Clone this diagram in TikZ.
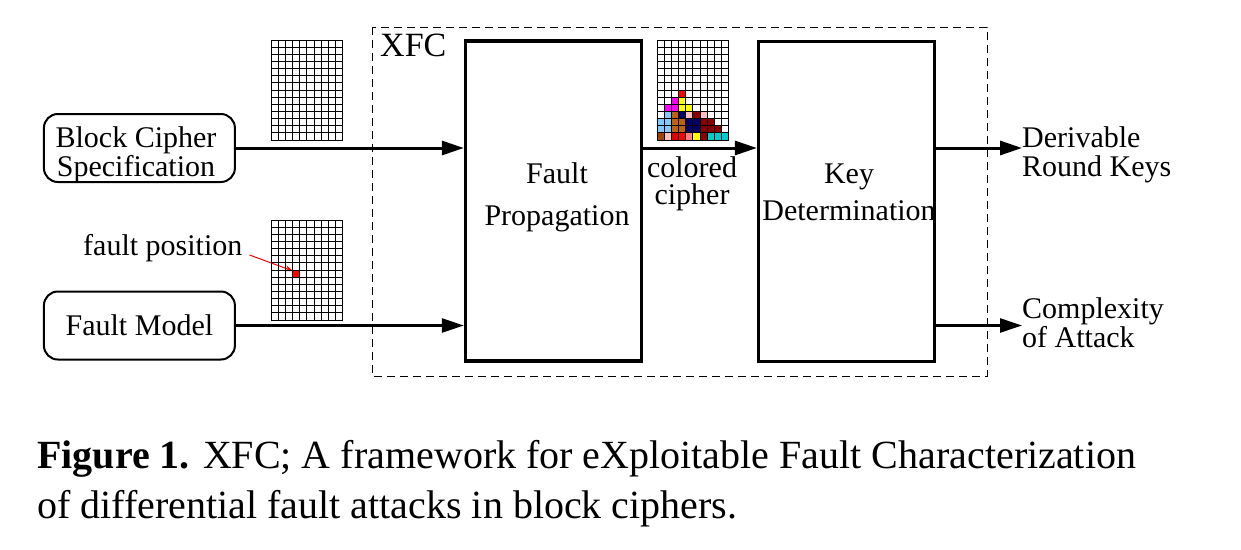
\documentclass[tikz,border=0pt]{standalone}
\usepackage{fontspec}
\setmainfont{Liberation Serif}
\usetikzlibrary{arrows.meta,shapes}

\definecolor{cellsky}{HTML}{80C8FF}
\definecolor{cellochre}{HTML}{C06010}
\definecolor{cellnavy}{HTML}{000066}
\definecolor{cellpink}{HTML}{FFC0C0}
\definecolor{cellmaroon}{HTML}{8B0000}
\definecolor{cellmagenta}{HTML}{FF00FF}
\definecolor{cellyellow}{HTML}{FFFF00}
\definecolor{cellred}{HTML}{FF0000}
\definecolor{cellsienna}{HTML}{A0400A}
\definecolor{cellsalmon}{HTML}{FF8080}
\definecolor{cellcyan}{HTML}{00CCCC}
\definecolor{cellcrimson}{HTML}{DD0000}

\tikzset{
  specbox/.style={draw,line width=2pt,rounded corners=14pt,minimum width=191pt,minimum height=68pt,inner sep=0pt},
  stagebox/.style={draw,line width=3.3pt,minimum width=176pt,minimum height=320pt,inner sep=0pt},
  flow/.style={line width=3pt,-{Triangle[length=22pt,width=14pt]}},
  lbl/.style={font=\fontsize{30}{29}\selectfont,inner sep=0pt},
  gridline/.style={line width=1pt}
}

\begin{document}
\begin{tikzpicture}[x=1pt,y=-1pt]
  \useasboundingbox (0,0) rectangle (1241,549);
  % XFC frame
  \draw[line width=1pt,dash pattern=on 8pt off 5pt] (372,27) rectangle (987,376);
  \node[lbl,font=\fontsize{34}{34}\selectfont,anchor=base west] (xfc) at (380,56) {XFC};
  % inputs
  \node[specbox] (bcs) at (139.4,148) {};
  \node[lbl,align=center] (bcstxt) at (136,154.5) {Block Cipher\\Specification};
  \node[specbox,lbl,line width=2pt] (fm) at (139.4,325.5) {Fault Model};
  % stages
  \node[stagebox] (prop) at (553.5,201) {};
  \node[lbl,align=center,font=\fontsize{30}{42}\selectfont] (proptxt) at (557,197) {Fault\\Propagation};
  \node[stagebox] (keydet) at (846.5,201.5) {};
  \node[lbl,align=center,font=\fontsize{30}{37}\selectfont] (kdtxt) at (849,192) {Key\\Determination};
  \node[lbl,align=center,font=\fontsize{30}{27}\selectfont] (cctxt) at (692,183.5) {colored\\cipher};
  % outputs
  \node[lbl,align=left,anchor=west] (drk) at (1022,155) {Derivable\\Round Keys};
  \node[lbl,align=left,anchor=west,font=\fontsize{30}{26}\selectfont] (coa) at (1022,323) {Complexity\\of Attack};
  % connectors
  \draw[flow] (bcs.east) -- (bcs.east -| prop.west);
  \draw[flow,line width=2.5pt] (fm.east) -- (fm.east -| prop.west);
  \draw[flow] (prop.east |- bcs.east) -- (keydet.west |- bcs.east);
  \draw[flow] (keydet.east |- bcs.east) -- (bcs.east -| drk.west);
  \draw[flow,line width=2.6pt] (keydet.east |- fm.east) -- (fm.east -| coa.west);
  % colored cipher cells
  \foreach \c/\r/\col in {3/7/cellred,
      2/8/cellmagenta, 3/8/cellyellow,
      1/9/cellmagenta, 2/9/cellmagenta, 3/9/cellyellow, 4/9/cellyellow,
      1/10/cellsky, 2/10/cellochre, 3/10/cellnavy, 4/10/cellpink, 5/10/cellmaroon, 6/10/cellpink,
      0/11/cellsky, 1/11/cellsky, 2/11/cellochre, 3/11/cellochre, 4/11/cellnavy, 5/11/cellnavy, 6/11/cellmaroon, 7/11/cellmaroon,
      0/12/cellsky, 1/12/cellsky, 2/12/cellochre, 3/12/cellochre, 4/12/cellnavy, 5/12/cellnavy, 6/12/cellmaroon, 7/12/cellmaroon, 8/12/cellmaroon,
      0/13/cellsienna, 1/13/cellpink, 2/13/cellcrimson, 3/13/cellred, 4/13/cellsalmon, 5/13/cellyellow, 6/13/cellmaroon, 7/13/cellcyan, 8/13/cellcyan, 9/13/cellcyan}
    \fill[\col] (657+\c*7.18,40+\r*7.15) rectangle ++(7.18,7.15);
  % fault position
  \fill[cellred] (271+3*7.18,220+7*7.15) rectangle ++(7.18,7.15);
  \node[lbl,anchor=base west] (fpos) at (83,255) {fault position};
  \coordinate (fptail) at ([xshift=7pt]fpos.base east);
  \coordinate (fcell) at (293,271);
  \draw[cellred,line width=1pt,-{Stealth[length=8pt,width=6pt]}] (fptail) -- (fcell);
  % grids
  \foreach \gx/\gy in {271/40, 271/220, 657/40} {
    \foreach \i in {0,...,10}
      \draw[gridline] (\gx+\i*7.18,\gy) -- ++(0,100);
    \foreach \j in {0,...,14}
      \draw[gridline] (\gx,\gy+\j*7.15) -- ++(71.8,0);
  }
  % caption
  \node[inner sep=0pt,anchor=north west,align=left,font=\fontsize{40}{50}\selectfont] (cap) at (37,440)
    {\textbf{Figure 1.} XFC; A framework for eXploitable Fault Characterization\\of differential fault attacks in block ciphers.};
\end{tikzpicture}
\end{document}
